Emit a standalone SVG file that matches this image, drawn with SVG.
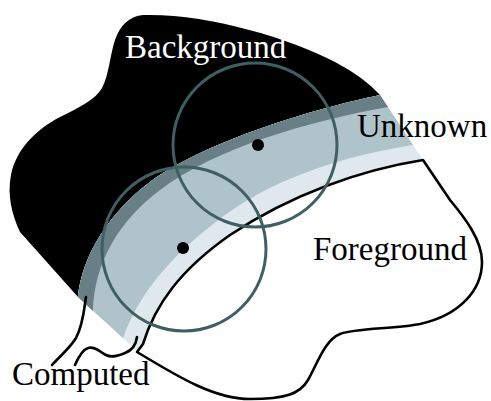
<svg xmlns="http://www.w3.org/2000/svg" width="491" height="401" viewBox="0 0 491 401">
<style>
.lbl{font-family:"Liberation Serif","Times New Roman",serif;font-size:33px}
.win{fill:none;stroke:#3f5f63;stroke-width:3}
.ln{fill:none;stroke:#000;stroke-width:2.6;stroke-linejoin:round;stroke-linecap:round}
</style>
<rect width="491" height="401" fill="#fff"/>
<g id="background">
<path d="M143,15 C205,13 290,38 335,62 C356,73 370,84 380,95 C300,112 200,145 150,182 C110,212 82,255 78,297 L20,232 C12,215 7,195 11,175 C16,150 35,130 60,117 C80,107 95,100 102,88 C109,75 110,55 115,40 C120,25 130,16 143,15 Z" fill="#000"/>
</g>
<g id="unknown">
<path d="M380,95 C300,112 200,145 150,182 C110,212 82,255 78,297 L138,352 L143,344 C155,305 180,270 230,235 C290,195 360,170 423,160 Z" fill="#dfe8ed"/>
<path d="M380,95 C300,112 200,145 150,182 C110,212 82,255 78,297 L123,338 C140,290 175,252 225,215 C280,175 350,155 413,145 Z" fill="#afc3ca"/>
<path d="M380,95 C300,112 200,145 150,182 C110,212 82,255 78,297 L93,311 C94,262 120,220 160,190 C215,148 310,121 388,107 Z" fill="#687f85"/>
</g>
<g id="foreground">
<path class="ln" d="M137,352 L143,344 C155,305 180,270 230,235 C290,195 360,170 423,160 L450,200 C465,218 482,240 482,262 C482,290 460,315 420,324 C395,329 355,328 340,334 C325,340 318,362 308,380 C300,394 285,399 250,399 C215,399 180,378 137,352 Z"/>
</g>
<g id="windows">
<circle class="win" cx="255" cy="145" r="82"/>
<circle class="win" cx="184" cy="249" r="82"/>
<circle cx="258" cy="145" r="6" fill="#000"/>
<circle cx="183" cy="248" r="6" fill="#000"/>
</g>
<g id="connectors">
<path class="ln" d="M86,297 C84,310 83,325 76,338 C70,348 60,356 52,365"/>
<path class="ln" d="M137,337 C136,345 133,350 125,353 C118,356 112,358 106,355 C100,352 95,346 88,348 C82,350 78,358 75,365"/>
</g>
<g id="labels">
<text class="lbl" x="125" y="58" fill="#fff">Background</text>
<text class="lbl" x="357" y="137" fill="#000">Unknown</text>
<text class="lbl" x="313" y="260" fill="#000">Foreground</text>
<text class="lbl" x="12" y="385" fill="#000">Computed</text>
</g>
</svg>
